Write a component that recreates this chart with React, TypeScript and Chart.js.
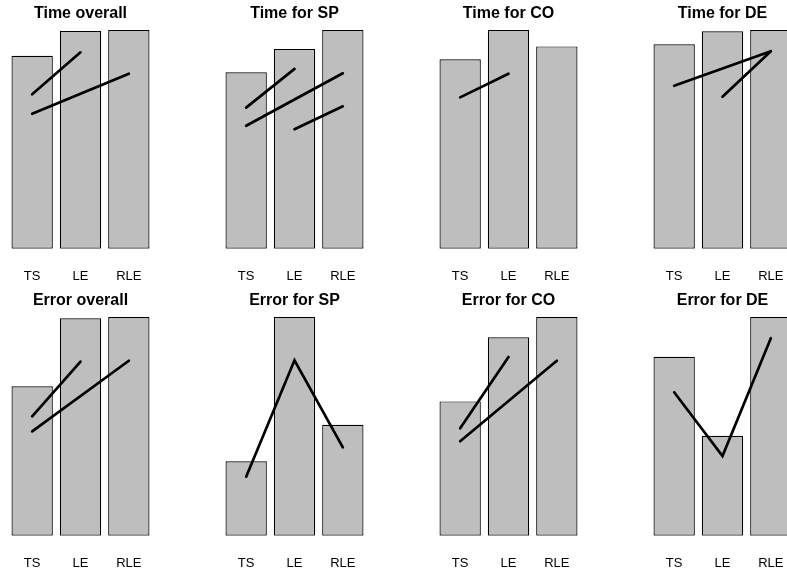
import React, { useEffect, useRef } from 'react';
import { Chart, registerables } from 'chart.js';

Chart.register(...registerables);

const categories = ['TS', 'LE', 'RLE'];

const titles = [
  'Time overall', 'Time for SP', 'Time for CO', 'Time for DE',
  'Error overall', 'Error for SP', 'Error for CO', 'Error for DE',
];

// bar heights (relative, tallest bar in each panel = 100)
const timeOverall = [88.2, 99.5, 100];
const timeSP = [80.7, 91.3, 100];
const timeCO = [86.6, 100, 92.5];
const timeDE = [93.5, 99.4, 100];
const errorOverall = [68.3, 99.4, 100];
const errorSP = [34.0, 100, 50.7];
const errorCO = [61.4, 90.7, 100];
const errorDE = [81.8, 45.7, 100];

// comparison lines drawn over the bars (null = not part of that line)
const timeOverallLines = [[70.6, 89.8, null], [61.7, null, 80.0]];
const timeSPLines = [[64.5, 82.2, null], [56.2, null, 80.2], [null, 54.6, 65.1]];
const timeCOLines = [[69.2, 80.0, null]];
const timeDELines = [[74.5, null, 90.3], [null, 69.5, 90.3]];
const errorOverallLines = [[54.6, 79.6, null], [47.7, null, 80.0]];
const errorSPLines = [[27.0, 80.2, 40.4]];
const errorCOLines = [[49.1, 81.7, null], [43.2, null, 80.0]];
const errorDELines = [[65.6, 36.4, 90.3]];

const barSets = [timeOverall, timeSP, timeCO, timeDE, errorOverall, errorSP, errorCO, errorDE];
const lineSets = [timeOverallLines, timeSPLines, timeCOLines, timeDELines, errorOverallLines, errorSPLines, errorCOLines, errorDELines];

const FONT = 'Liberation Sans, Arial, Helvetica, sans-serif';

function Panel({ title, bars, lines, left, top }: { title: string; bars: number[]; lines: (number | null)[][]; left: number; top: number }) {
  const ref = useRef<HTMLCanvasElement>(null);
  useEffect(() => {
    const chart = new Chart(ref.current as HTMLCanvasElement, {
      type: 'bar',
      data: {
        labels: categories,
        datasets: [
          {
            type: 'bar',
            data: bars,
            backgroundColor: '#BEBEBE',
            borderColor: '#000000',
            borderWidth: 1.2,
            borderSkipped: false,
            barPercentage: 0.855,
            categoryPercentage: 1,
            order: 1,
          } as any,
          ...lines.map((l) => ({
            type: 'line',
            data: l,
            borderColor: '#000000',
            borderWidth: 2.7,
            pointRadius: 0,
            spanGaps: true,
            borderCapStyle: 'round',
            fill: false,
            tension: 0,
            order: 0,
          }) as any),
        ],
      },
      options: {
        responsive: false,
        maintainAspectRatio: false,
        animation: false,
        events: [],
        layout: { padding: { left: 8, right: 8, top: 0, bottom: 2.5 } },
        plugins: {
          legend: { display: false },
          tooltip: { enabled: false },
          title: {
            display: true,
            text: title,
            color: '#000000',
            font: { family: FONT, size: 16, weight: 'bold' },
            padding: { top: 3.7, bottom: 7.1 },
          },
        },
        scales: {
          x: {
            grid: { display: false, drawTicks: true, tickLength: 20.2 },
            border: { display: false },
            ticks: { color: '#000000', font: { family: FONT, size: 13 }, padding: 0, maxRotation: 0 },
          },
          y: { display: false, min: 0, max: 100 },
        },
      } as any,
    });
    return () => chart.destroy();
  }, []);
  return (
    <canvas
      ref={ref}
      width={161}
      height={287}
      style={{ position: 'absolute', left, top, width: 161, height: 287 }}
    />
  );
}

const colLefts = [0, 214, 428, 642];
const rowTops = [0, 287];

export default function App() {
  return (
    <div style={{ position: 'absolute', left: 0, top: 0, width: 787, height: 574, overflow: 'hidden', background: '#ffffff' }}>
      {titles.map((t, i) => (
        <Panel
          key={t}
          title={t}
          bars={barSets[i]}
          lines={lineSets[i]}
          left={colLefts[i % 4]}
          top={rowTops[Math.floor(i / 4)]}
        />
      ))}
    </div>
  );
}
